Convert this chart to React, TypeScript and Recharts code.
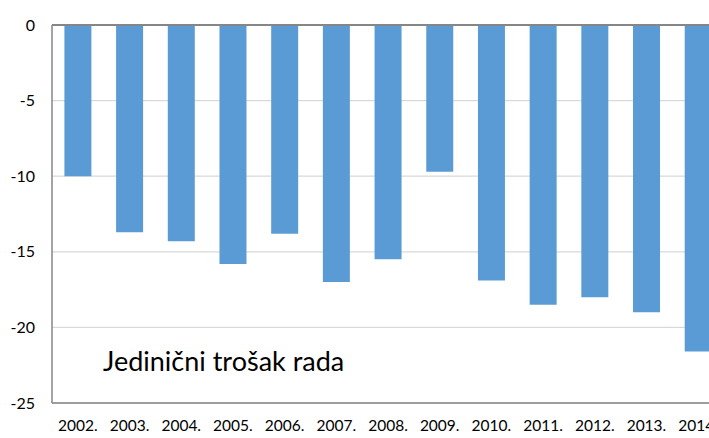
import React from "react";
import { BarChart, Bar, XAxis, YAxis, CartesianGrid, ReferenceLine } from "recharts";

const years = ["2002.", "2003.", "2004.", "2005.", "2006.", "2007.", "2008.", "2009.", "2010.", "2011.", "2012.", "2013.", "2014."];
const values = [-10.0, -13.7, -14.3, -15.8, -13.8, -17.0, -15.5, -9.7, -16.9, -18.5, -18.0, -19.0, -21.6];
const yTicks = [0, -5, -10, -15, -20, -25];
const chartTitle = "Jedinični trošak rada";

const data = years.map((y, i) => ({ year: y, value: values[i] }));

export default function App() {
  return (
    <div style={{ position: "absolute", left: 0, top: 0, width: 709, height: 438, overflow: "hidden", background: "#fff" }}>
      <BarChart width={730} height={438} data={data} margin={{ top: 25, right: 6, left: 0, bottom: 5 }} barCategoryGap="24%">
        <CartesianGrid horizontal vertical={false} stroke="#d9d9d9" strokeWidth={1.3} />
        <XAxis
          dataKey="year"
          height={30}
          axisLine={{ stroke: "#868686", strokeWidth: 1.5 }}
          tickLine={false}
          tickSize={0}
          tickMargin={17}
          interval={0}
          tick={{ fill: "#000", fontSize: 15.5, fontFamily: "Lato" }}
        />
        <YAxis
          width={52}
          domain={[-25, 0]}
          ticks={yTicks}
          axisLine={{ stroke: "#868686", strokeWidth: 1.5 }}
          tickLine={false}
          tickSize={0}
          tickMargin={17}
          tick={{ fill: "#000", fontSize: 16, fontFamily: "Lato" }}
        />
        <ReferenceLine y={0} stroke="#868686" strokeWidth={2} />
        <Bar dataKey="value" fill="#5b9bd5" isAnimationActive={false} />
      </BarChart>
      <div style={{ position: "absolute", left: 103, top: 344, fontFamily: "Lato", fontSize: 27, color: "#000", whiteSpace: "nowrap" }}>
        {chartTitle}
      </div>
    </div>
  );
}
